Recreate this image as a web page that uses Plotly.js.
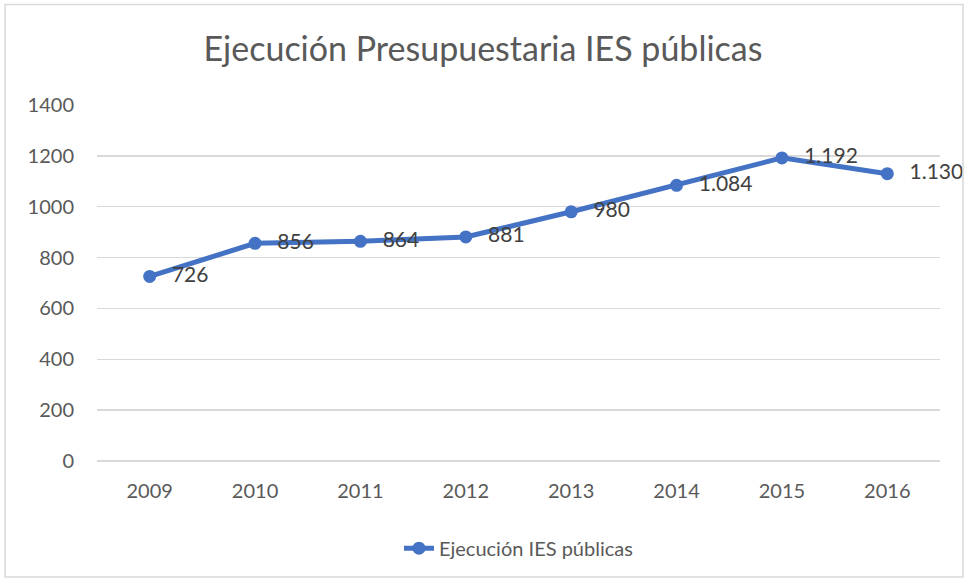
<!DOCTYPE html>
<html>
<head>
<meta charset="utf-8">
<script src="https://cdn.plot.ly/plotly-3.0.1.min.js"></script>
<style>
html,body{margin:0;padding:0;background:#fff;}
#chart{width:966px;height:583px;}
</style>
</head>
<body>
<div id="chart"></div>
<script>
const years = ['2009','2010','2011','2012','2013','2014','2015','2016'];
const values = [726, 856, 864, 881, 980, 1084, 1192, 1130];
const seriesName = 'Ejecución IES públicas';
const chartTitle = 'Ejecución Presupuestaria IES públicas';

const fontFam = 'Lato, "Open Sans", sans-serif';

const lineTrace = {
  x: years,
  y: values,
  type: 'scatter',
  mode: 'lines+markers',
  name: seriesName,
  line: {color: '#4472C4', width: 5},
  marker: {color: '#4472C4', size: 13},
  cliponaxis: false
};

const labelTrace = {
  x: years,
  y: values,
  type: 'scatter',
  mode: 'markers+text',
  showlegend: false,
  marker: {color: 'rgba(0,0,0,0)', size: 34},
  texttemplate: '%{y:,.0f}',
  textposition: 'middle right',
  textfont: {family: fontFam, size: 21, color: '#404040'},
  cliponaxis: false
};

const layout = {
  width: 966,
  height: 583,
  margin: {l: 97, r: 26, t: 105, b: 122},
  paper_bgcolor: '#ffffff',
  plot_bgcolor: '#ffffff',
  separators: ',.',
  title: {
    text: chartTitle,
    font: {family: fontFam, size: 34, color: '#595959'},
    x: 0.5, xanchor: 'center',
    y: 0.915, yanchor: 'middle'
  },
  xaxis: {
    type: 'category',
    range: [-0.5, 7.5],
    showgrid: false,
    showline: false,
    zeroline: false,
    ticks: '',
    tickfont: {family: fontFam, size: 20, color: '#595959'},
    ticklabelstandoff: 16
  },
  yaxis: {
    range: [0, 1400],
    dtick: 200,
    showgrid: true,
    gridcolor: '#d9d9d9',
    gridwidth: 1.5,
    zeroline: true,
    zerolinecolor: '#d9d9d9',
    zerolinewidth: 1.5,
    showline: false,
    ticks: '',
    tickfont: {family: fontFam, size: 20, color: '#595959'},
    ticklabelstandoff: 22
  },
  showlegend: true,
  legend: {
    orientation: 'h',
    x: 0.5, xanchor: 'center',
    y: -0.245, yanchor: 'middle',
    font: {family: fontFam, size: 20, color: '#595959'}
  },
  shapes: [{
    type: 'rect', xref: 'paper', yref: 'paper',
    x0: -0.109, x1: 1.0273, y0: -0.326, y1: 1.282,
    line: {color: '#d9d9d9', width: 1.5},
    fillcolor: 'rgba(0,0,0,0)'
  }]
};

Plotly.newPlot('chart', [lineTrace, labelTrace], layout, {displayModeBar: false, staticPlot: true});
</script>
</body>
</html>
